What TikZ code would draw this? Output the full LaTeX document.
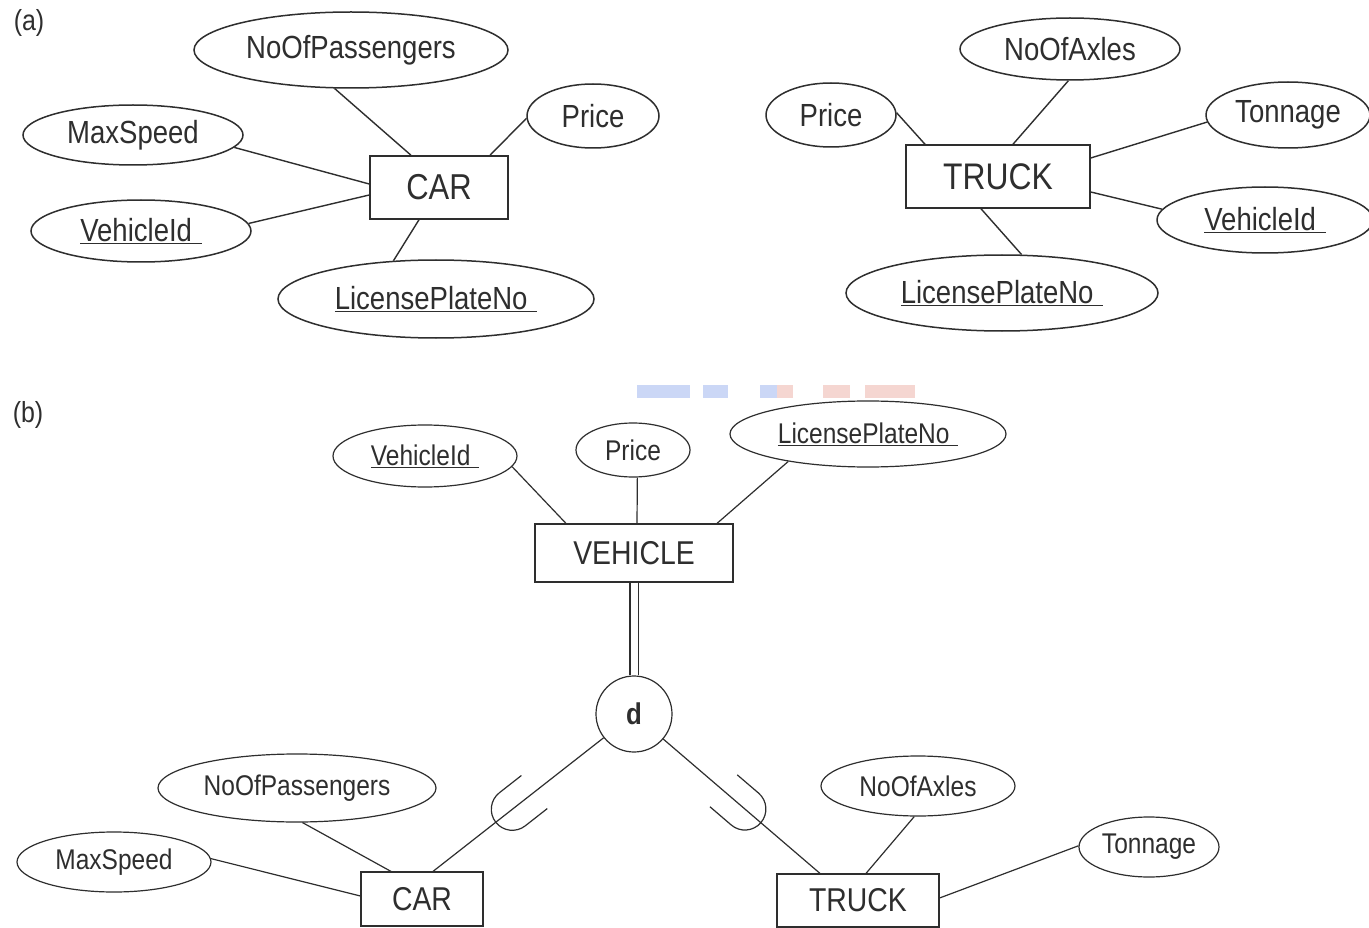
\documentclass[tikz,border=0pt]{standalone}
\usepackage{fontspec}
\setmainfont[FakeStretch=0.86]{Liberation Sans}
\usetikzlibrary{shapes.geometric}

\newcommand\sza{\fontsize{32}{36}\selectfont}
\newcommand\szaent{\fontsize{36}{40}\selectfont}
\newcommand\szb{\fontsize{28.5}{32}\selectfont}
\newcommand\szbent{\fontsize{33}{36}\selectfont}
\newcommand\keyattr[1]{\underline{#1\hspace{0.3em}}}

\definecolor{ink}{HTML}{2E2E2E}
\definecolor{wmblue}{HTML}{CBD7F6}
\definecolor{wmred}{HTML}{F5D6D1}

\tikzset{
  attr/.style={ellipse, draw=ink, text=ink, inner sep=0pt, line width=1.5pt},
  ent/.style={rectangle, draw=ink, text=ink, inner sep=0pt, line width=1.5pt},
  link/.style={draw=ink, line width=1.4pt},
  attrb/.style={attr, line width=1.2pt},
  entb/.style={ent, line width=1.2pt},
  linkb/.style={draw=ink, line width=1.2pt},
  subsetsym/.pic={\draw[ink, line width=1.2pt] (0pt,21pt) -- (28pt,21pt)
      arc[start angle=90, end angle=-90, radius=21pt] -- (0pt,-21pt);}
}

\begin{document}
\begin{tikzpicture}[x=1pt, y=-1pt]
\useasboundingbox (0,0) rectangle (1369,928);
\fill[white] (0,0) rectangle (1369,928);

% faint colour bars across the middle
\fill[wmblue] (637,385) rectangle (690,398);
\fill[wmblue] (703,385) rectangle (728,398);
\fill[wmblue] (760,385) rectangle (777,398);
\fill[wmred]  (777,385) rectangle (793,398);
\fill[wmred]  (823,385) rectangle (850,398);
\fill[wmred]  (865,385) rectangle (915,398);

% ---------------- (a) ----------------
\node[text=ink, font=\fontsize{29}{32}\selectfont] (lba) at (29,23) {(a)};

\node[ent, minimum width=138pt, minimum height=63pt, font=\szaent] (cara) at (439,187.5) {CAR};
\node[attr, minimum width=314pt, minimum height=76pt, font=\sza] (nopa) at (351,50) {NoOfPassengers};
\node[attr, minimum width=132pt, minimum height=64pt, font=\sza] (pra) at (593,116) {Price};
\node[attr, minimum width=220pt, minimum height=60pt, font=\sza] (msa) at (133,135) {MaxSpeed};
\node[attr, minimum width=220pt, minimum height=62pt, font=\sza] (vida) at (141,231) {\keyattr{VehicleId}};
\node[attr, minimum width=316pt, minimum height=78pt, font=\sza] (lpa) at (436,299) {\keyattr{LicensePlateNo}};

\draw[link] (nopa.-113) -- ([xshift=-28pt]cara.north);
\draw[link] (pra.182) -- ([xshift=51pt]cara.north);
\draw[link] (msa.-7.5) -- ([yshift=3.5pt]cara.west);
\draw[link] (vida.4.8) -- ([yshift=-7.5pt]cara.west);
\draw[link] (lpa.138.6) -- ([xshift=-20pt]cara.south);

\node[ent, minimum width=184pt, minimum height=63pt, font=\fontsize{37}{40}\selectfont] (trka) at (998,176.5) {TRUCK};
\node[attr, minimum width=130pt, minimum height=64pt, font=\sza] (prta) at (831,115) {Price};
\node[attr, minimum width=220pt, minimum height=62pt, font=\sza] (noxa) at (1070,49) {NoOfAxles};
\node[attr, minimum width=164pt, minimum height=66pt, font=\sza] (tona) at (1288,115) {Tonnage};
\node[attr, minimum width=216pt, minimum height=66pt, font=\sza] (vidta) at (1265,220) {\keyattr{VehicleId}};
\node[attr, minimum width=312pt, minimum height=76pt, font=\sza] (lpta) at (1002,293) {\keyattr{LicensePlateNo}};

\draw[link] (prta.2.7) -- ([xshift=-73pt]trka.north);
\draw[link] (noxa.-93.6) -- ([xshift=15pt]trka.north);
\draw[link] (tona.-175.8) -- ([yshift=18.5pt]trka.east);
\draw[link] (vidta.174.5) -- ([yshift=-15.5pt]trka.east);
\draw[link] (lpta.63.4) -- ([xshift=-17pt]trka.south);

% ---------------- (b) ----------------
\node[text=ink, font=\fontsize{29}{32}\selectfont] (lbb) at (28,415) {(b)};

\node[entb, minimum width=198pt, minimum height=58pt, font=\szbent] (vehb) at (634,553) {VEHICLE};
\node[attrb, minimum width=184pt, minimum height=62pt, font=\szb] (vidb) at (425,456) {\keyattr{VehicleId}};
\node[attrb, minimum width=114pt, minimum height=54pt, font=\szb] (prb) at (633,450) {Price};
\node[attrb, minimum width=276pt, minimum height=66pt, font=\szb] (lpb) at (868,434) {\keyattr{LicensePlateNo}};

\draw[linkb] (vidb.-7.9) -- ([xshift=-68pt]vehb.north);
\draw[linkb] (prb.-81.6) -- ([xshift=3pt]vehb.north);
\draw[linkb] (lpb.-161) -- ([xshift=83pt]vehb.north);

\node[circle, draw=ink, text=ink, line width=1.2pt, minimum size=76pt, inner sep=0pt,
      font=\fontsize{30}{32}\selectfont\bfseries] (dn) at (634,714) {d};
\draw[ink, line width=1.2pt, double, double distance=7pt] (vehb.south) -- (dn.north);

\node[entb, minimum width=122pt, minimum height=54pt, font=\szbent] (carb) at (422,899) {CAR};
\node[entb, minimum width=162pt, minimum height=53pt, font=\szbent] (trkb) at (858,900.5) {TRUCK};

\draw[linkb] (dn) -- ([xshift=11pt]carb.north)
  pic[pos=0.406, sloped, allow upside down] {subsetsym};
\draw[linkb] (dn) -- ([xshift=-38pt]trkb.north)
  pic[pos=0.385, sloped, allow upside down] {subsetsym};

\node[attrb, minimum width=278pt, minimum height=68pt, font=\szb] (nopb) at (297,788) {NoOfPassengers};
\node[attrb, minimum width=194pt, minimum height=60pt, font=\szb] (msb) at (114,862) {MaxSpeed};
\node[attrb, minimum width=194pt, minimum height=60pt, font=\szb] (noxb) at (918,786) {NoOfAxles};
\node[attrb, minimum width=140pt, minimum height=60pt, font=\szb] (tonb) at (1149,847) {Tonnage};

\draw[linkb] (nopb.-81.6) -- ([xshift=-31pt]carb.north);
\draw[linkb] (msb.2.4) -- ([yshift=3pt]carb.west);
\draw[linkb] (noxb.-97.6) -- ([xshift=8pt]trkb.north);
\draw[linkb] (tonb.179) -- ([yshift=2.5pt]trkb.east);
\end{tikzpicture}
\end{document}
